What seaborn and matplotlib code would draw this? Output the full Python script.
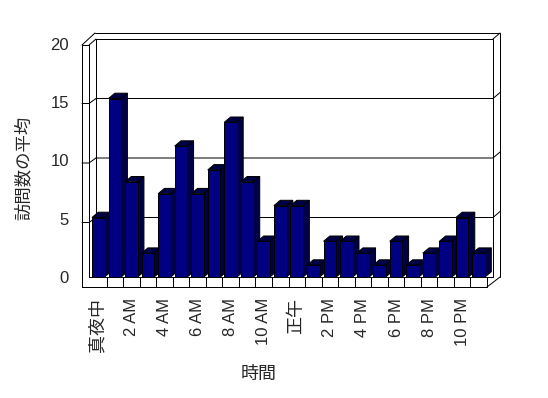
import matplotlib.pyplot as plt
import seaborn as sns
import pandas as pd
from matplotlib.patches import Polygon
from matplotlib.lines import Line2D
from matplotlib.transforms import IdentityTransform, ScaledTranslation

# data
hours = list(range(24))
visits = [5, 15, 8, 2, 7, 11, 7, 9, 13, 8, 3, 6, 6, 1, 3, 3, 2, 1, 3, 1, 2, 3, 5, 2]
tick_labels = ['真夜中', '2 AM', '4 AM', '6 AM', '8 AM', '10 AM',
               '正午', '2 PM', '4 PM', '6 PM', '8 PM', '10 PM']
y_ticks = [0, 5, 10, 15, 20]

sns.set_style('white')
plt.rcParams['font.family'] = ['Liberation Sans', 'Noto Sans CJK JP']

W, H = 548, 398
PX = 0.72  # one pixel in points at 100 dpi
fig = plt.figure(figsize=(W / 100, H / 100), dpi=100)

# bar plane in image pixels (top-left origin)
x0, x1, yt, yb = 90, 487, 39, 277
ax = fig.add_axes([x0 / W, (H - yb) / H, (x1 - x0) / W, (yb - yt) / H])

df = pd.DataFrame({'hour': hours, 'visits': visits})
sns.barplot(data=df, x='hour', y='visits', color='#000080', saturation=1,
            width=0.76, edgecolor='black', linewidth=PX, ax=ax)
ax.set_xlim(-0.5, 23.5)
ax.set_ylim(0, 20)

# 3D faces of the columns (depth offset in pixels)
dx, dy = 6.3, 5.3
dark = '#000045'
for i, bar in enumerate(ax.patches):
    x, w, h = bar.get_x(), bar.get_width(), bar.get_height()
    bl, br, tr, tl = ax.transData.transform([(x, 0), (x + w, 0), (x + w, h), (x, h)])
    side = [br, br + (dx, dy), tr + (dx, dy), tr]
    top = [tl, tr, tr + (dx, dy), tl + (dx, dy)]
    for pts in (side, top):
        ax.add_patch(Polygon(pts, closed=True, facecolor=dark, edgecolor='black',
                             linewidth=PX, transform=IdentityTransform(),
                             clip_on=False, zorder=2 + 2 * i))
    bar.set_zorder(3 + 2 * i)


def line(pts, z=0.5):
    xs = [p[0] for p in pts]
    ys = [H - p[1] for p in pts]
    ax.add_line(Line2D(xs, ys, color='black', linewidth=PX,
                       transform=IdentityTransform(), clip_on=False, zorder=z))


def ypix(v):
    return yb - (yb - yt) * v / 20


off = 6  # back wall shift
bx0, bx1 = x0 + off, x1 + off
lw0 = x0 - 8  # left wall front edge

# back wall
line([(bx0, ypix(20)), (bx1, ypix(20)), (bx1, yb)])
line([(bx0, ypix(20)), (bx0, yb)])
line([(bx0 - 1, ypix(20) - 6), (bx1 + 7, ypix(20) - 6), (bx1 + 7, yb)])
line([(bx1, ypix(20)), (bx1 + 7, ypix(20) - 6)])
# left wall
line([(lw0, ypix(20) + 6), (lw0, yb + 10)])
line([(x0 - 1, ypix(20) + 6), (x0 - 1, yb)])
line([(lw0, ypix(20) + 6), (x0 - 1, ypix(20) + 6)])
line([(lw0, ypix(20) + 6), (bx0 - 1, ypix(20) - 6)])
line([(x0 - 1, ypix(20) + 6), (bx0, ypix(20))])
# gridlines
for v in y_ticks[1:-1]:
    y = ypix(v)
    line([(bx0, y), (bx1, y), (bx1 + 7, y - 6)])
    line([(lw0, y + 5), (x0 - 1, y + 5), (bx0, y)])
# floor
line([(x0 - 1, yb), (x1, yb), (x1, yb + 10), (lw0, yb + 10)])
line([(x1, yb + 10), (bx1 + 7, yb)])
line([(x1, yb), (bx1, yb)])
for k in range(1, 24):
    xk = x0 + (x1 - x0) * k / 24
    line([(xk, yb), (xk, yb + 10)])

ax.set_xlim(-0.5, 23.5)
ax.set_ylim(0, 20)
for s in ax.spines.values():
    s.set_visible(False)

ax.set_xticks(hours[::2])
ax.set_xticklabels(tick_labels, rotation=90, fontsize=12)
for t in ax.get_xticklabels():
    if not t.get_text().isascii():
        t.set_fontsize(13)
ax.tick_params(axis='x', length=0, pad=21 * PX)
ax.set_yticks(y_ticks)
ax.tick_params(axis='y', length=0, pad=21 * PX, labelsize=12)
# y labels sit on the front edge of the left wall, a little lower
for v, t in zip(y_ticks, ax.get_yticklabels()):
    t.set_transform(t.get_transform() + ScaledTranslation(0, -(v / 4) / 100, fig.dpi_scale_trans))

ax.set_ylabel('訪問数の平均', fontsize=12.5)
ax.yaxis.set_label_coords((32 - x0) / (x1 - x0), (yb - 168) / (yb - yt))
ax.set_xlabel('時間', fontsize=13)
ax.xaxis.set_label_coords((259 - x0) / (x1 - x0), (yb - 366) / (yb - yt))

fig.savefig('out.png', dpi=100)
